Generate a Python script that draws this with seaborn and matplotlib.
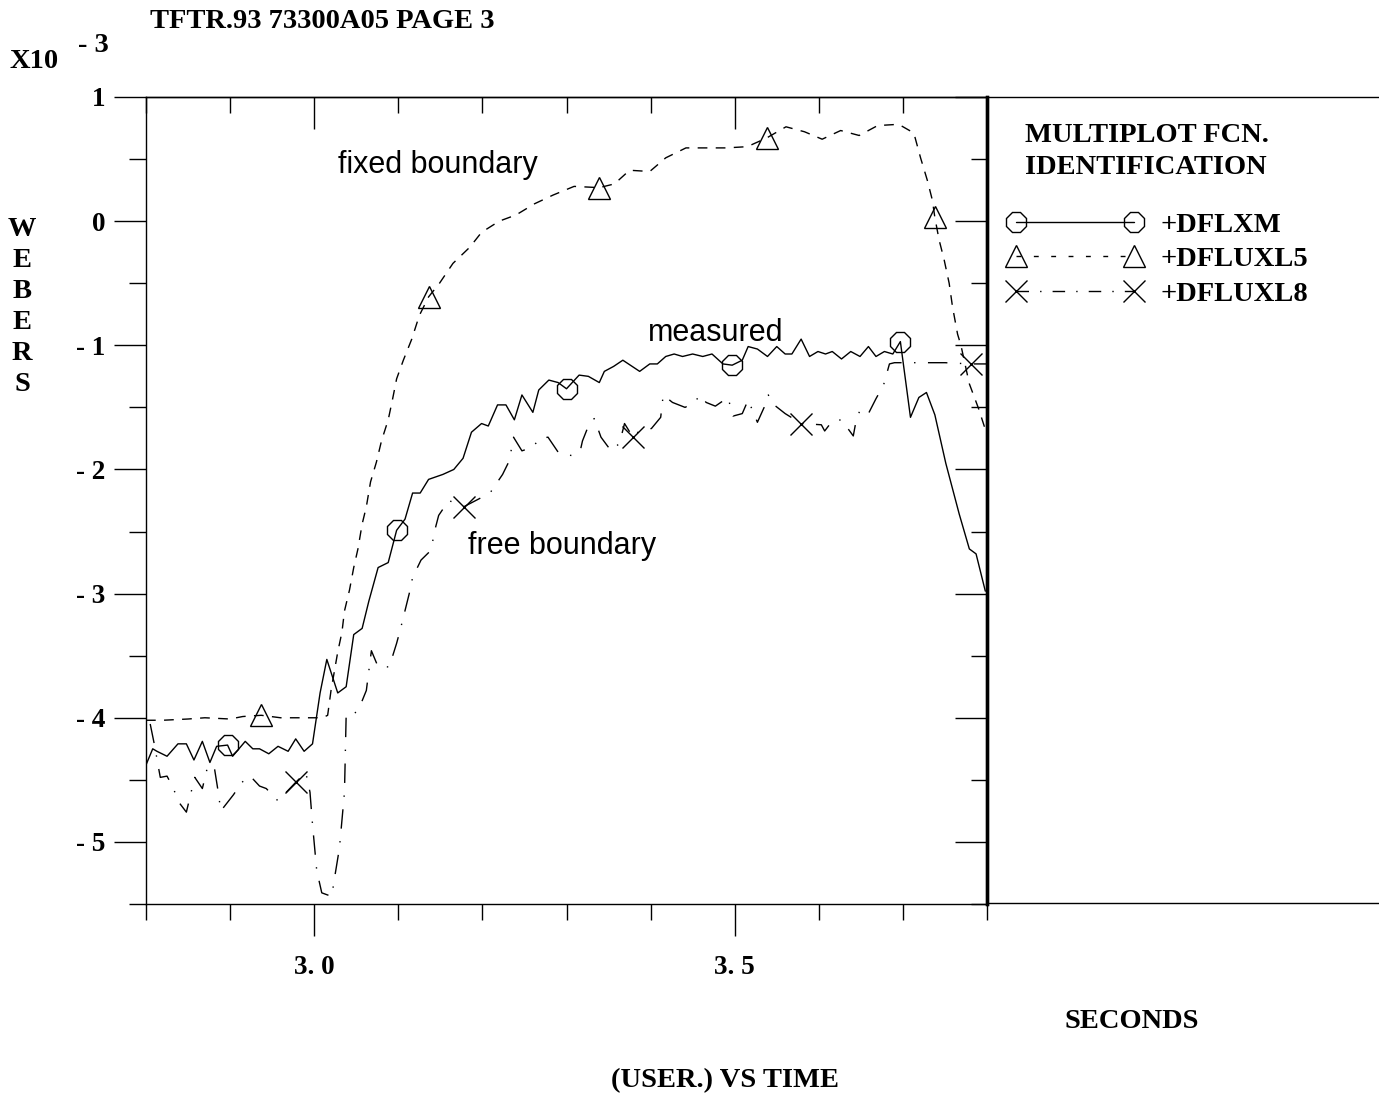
import numpy as np
import matplotlib
matplotlib.use("Agg")
import matplotlib.pyplot as plt
from matplotlib.lines import Line2D
from matplotlib.ticker import FixedLocator
import seaborn as sns

# ---------------- data ----------------
t_measured = [2.800, 2.808, 2.813, 2.825, 2.838, 2.848, 2.857, 2.867, 2.876, 2.884,
              2.897, 2.903, 2.918, 2.927, 2.935, 2.946, 2.957, 2.969, 2.978, 2.988,
              2.998, 3.007, 3.015, 3.028, 3.038, 3.047, 3.057, 3.065, 3.076, 3.088,
              3.098, 3.108, 3.117, 3.126, 3.136, 3.153, 3.166, 3.177, 3.187, 3.199,
              3.207, 3.218, 3.228, 3.238, 3.247, 3.260, 3.267, 3.279, 3.290, 3.300,
              3.315, 3.326, 3.339, 3.345, 3.356, 3.367, 3.387, 3.399, 3.408, 3.418,
              3.428, 3.438, 3.450, 3.462, 3.473, 3.486, 3.497, 3.509, 3.516, 3.527,
              3.539, 3.550, 3.560, 3.568, 3.579, 3.589, 3.599, 3.608, 3.616, 3.627,
              3.638, 3.649, 3.659, 3.668, 3.678, 3.688, 3.697, 3.709, 3.719, 3.728,
              3.738, 3.751, 3.767, 3.779, 3.787, 3.798]
measured = [-4.38, -4.25, -4.27, -4.31, -4.21, -4.21, -4.34, -4.19, -4.36, -4.23,
            -4.22, -4.31, -4.19, -4.25, -4.25, -4.29, -4.23, -4.27, -4.17, -4.27,
            -4.21, -3.80, -3.53, -3.80, -3.75, -3.33, -3.28, -3.06, -2.79, -2.75,
            -2.49, -2.40, -2.19, -2.19, -2.08, -2.04, -2.00, -1.91, -1.70, -1.63,
            -1.65, -1.48, -1.48, -1.60, -1.40, -1.54, -1.36, -1.28, -1.30, -1.35,
            -1.24, -1.25, -1.30, -1.21, -1.17, -1.12, -1.21, -1.15, -1.15, -1.09,
            -1.07, -1.09, -1.07, -1.09, -1.07, -1.15, -1.16, -1.12, -1.01, -1.03,
            -1.09, -1.01, -1.07, -1.07, -0.95, -1.09, -1.05, -1.07, -1.05, -1.11,
            -1.05, -1.09, -1.01, -1.09, -1.05, -1.07, -0.97, -1.58, -1.42, -1.38,
            -1.56, -1.95, -2.36, -2.64, -2.68, -2.98]
measured_marks = [10, 30, 49, 66, 86]

t_fixed = [2.800, 2.820, 2.850, 2.870, 2.900, 2.915, 2.937, 2.960, 2.990, 3.010,
           3.016, 3.020, 3.028, 3.033, 3.036, 3.042, 3.047, 3.052, 3.057, 3.062,
           3.067, 3.074, 3.080, 3.088, 3.093, 3.098, 3.106, 3.116, 3.125, 3.136,
           3.149, 3.165, 3.185, 3.199, 3.220, 3.240, 3.262, 3.284, 3.309, 3.339,
           3.357, 3.375, 3.399, 3.418, 3.442, 3.462, 3.490, 3.515, 3.538, 3.561,
           3.583, 3.604, 3.626, 3.648, 3.670, 3.695, 3.713, 3.721, 3.729, 3.735,
           3.738, 3.743, 3.749, 3.755, 3.759, 3.765, 3.769, 3.779, 3.790, 3.800]
fixed = [-4.02, -4.02, -4.01, -4.00, -4.01, -3.99, -3.98, -4.00, -4.00, -4.00,
         -3.98, -3.78, -3.47, -3.31, -3.14, -2.97, -2.79, -2.64, -2.44, -2.30,
         -2.10, -1.94, -1.77, -1.60, -1.44, -1.27, -1.12, -0.95, -0.76, -0.61,
         -0.50, -0.34, -0.21, -0.09, 0.00, 0.05, 0.14, 0.21, 0.28, 0.27,
         0.30, 0.41, 0.40, 0.51, 0.59, 0.59, 0.59, 0.60, 0.67, 0.76,
         0.72, 0.66, 0.73, 0.69, 0.77, 0.78, 0.71, 0.51, 0.33, 0.17,
         0.03, -0.15, -0.31, -0.50, -0.69, -0.91, -1.00, -1.31, -1.51, -1.72]
fixed_marks = [6, 29, 39, 48, 60]

t_free = [2.805, 2.811, 2.814, 2.817, 2.825, 2.832, 2.839, 2.848, 2.854, 2.858,
          2.867, 2.873, 2.881, 2.885, 2.889, 2.904, 2.914, 2.924, 2.935, 2.943,
          2.957, 2.978, 2.990, 2.995, 2.998, 3.003, 3.009, 3.021, 3.023, 3.030,
          3.034, 3.036, 3.038, 3.047, 3.056, 3.062, 3.068, 3.076, 3.089, 3.092,
          3.098, 3.102, 3.113, 3.117, 3.127, 3.139, 3.143, 3.148, 3.160, 3.178,
          3.195, 3.209, 3.224, 3.232, 3.237, 3.247, 3.260, 3.268, 3.278, 3.290,
          3.307, 3.317, 3.319, 3.326, 3.333, 3.341, 3.353, 3.363, 3.369, 3.379,
          3.385, 3.401, 3.412, 3.415, 3.426, 3.441, 3.452, 3.459, 3.466, 3.477,
          3.492, 3.498, 3.509, 3.516, 3.527, 3.535, 3.540, 3.545, 3.560, 3.579,
          3.603, 3.607, 3.616, 3.627, 3.641, 3.644, 3.649, 3.659, 3.668, 3.677,
          3.684, 3.690, 3.720, 3.750, 3.781, 3.800]
free = [-4.05, -4.25, -4.37, -4.48, -4.47, -4.56, -4.68, -4.76, -4.59, -4.48,
        -4.57, -4.40, -4.39, -4.56, -4.75, -4.62, -4.52, -4.47, -4.55, -4.57,
        -4.67, -4.52, -4.44, -4.60, -4.86, -5.23, -5.41, -5.44, -5.34, -5.05,
        -4.75, -4.60, -3.98, -3.98, -3.88, -3.78, -3.46, -3.59, -3.59, -3.53,
        -3.40, -3.30, -3.00, -2.87, -2.73, -2.65, -2.50, -2.37, -2.25, -2.30,
        -2.24, -2.19, -2.04, -1.93, -1.74, -1.85, -1.82, -1.75, -1.74, -1.86,
        -1.89, -1.83, -1.77, -1.65, -1.59, -1.74, -1.85, -1.79, -1.63, -1.74,
        -1.70, -1.67, -1.58, -1.40, -1.46, -1.50, -1.46, -1.40, -1.46, -1.49,
        -1.42, -1.57, -1.55, -1.44, -1.62, -1.50, -1.40, -1.47, -1.55, -1.63,
        -1.64, -1.69, -1.61, -1.60, -1.73, -1.62, -1.52, -1.55, -1.43, -1.32,
        -1.15, -1.14, -1.14, -1.14, -1.15, -1.15]
free_marks = [21, 49, 69, 89, 104]

series_labels = ["+DFLXM", "+DFLUXL5", "+DFLUXL8"]
x_major_ticks = [3.0, 3.5]
x_tick_labels = ["3. 0", "3. 5"]
x_minor_ticks = [2.8, 2.9, 3.1, 3.2, 3.3, 3.4, 3.6, 3.7, 3.8]
y_major_ticks = [1, 0, -1, -2, -3, -4, -5]
y_tick_labels = ["1", "0", "- 1", "- 2", "- 3", "- 4", "- 5"]
y_minor_ticks = [0.5, -0.5, -1.5, -2.5, -3.5, -4.5, -5.5]

# ---------------- style ----------------
sns.set_theme(style="ticks", rc={
    "axes.edgecolor": "black", "xtick.color": "black", "ytick.color": "black",
    "text.color": "black", "axes.labelcolor": "black", "axes.linewidth": 1.0,
})
plt.rcParams["font.family"] = ["Liberation Serif", "DejaVu Serif"]
plt.rcParams["font.weight"] = "bold"
plt.rcParams["lines.scale_dashes"] = True

W, H = 1379, 1093
fig = plt.figure(figsize=(W / 100, H / 100), dpi=100)
fig.patch.set_facecolor("white")


def fx(px):
    return px / W


def fy(py):
    return 1 - py / H


ax = fig.add_axes([fx(146), fy(904), (987 - 146) / W, (904 - 97) / H])
ax.set_facecolor("white")

FS = 19.5
TS = 20.5
MS = 16
dash_fixed = (0, (7, 6))
dash_free = (0, (14, 9, 1, 9))

sns.lineplot(x=t_measured, y=measured, ax=ax, color="black", lw=1.0,
             sort=False, estimator=None, marker="8", markersize=MS,
             markevery=measured_marks, markerfacecolor="none",
             markeredgecolor="black", markeredgewidth=1.0)
sns.lineplot(x=t_fixed, y=fixed, ax=ax, color="black", lw=1.0,
             linestyle=dash_fixed, sort=False, estimator=None, marker="^",
             markersize=MS - 0.5, markevery=fixed_marks, markerfacecolor="none",
             markeredgecolor="black", markeredgewidth=1.0)
sns.lineplot(x=t_free, y=free, ax=ax, color="black", lw=1.0,
             linestyle=dash_free, sort=False, estimator=None, marker="x",
             markersize=MS, markevery=free_marks,
             markeredgecolor="black", markeredgewidth=1.0)

ax.set_xlim(2.8, 3.8)
ax.set_ylim(-5.5, 1.0)
ax.set_xlabel("")
ax.set_ylabel("")

# bottom / left ticks (outward)
ax.xaxis.set_major_locator(FixedLocator(x_major_ticks))
ax.xaxis.set_minor_locator(FixedLocator(x_minor_ticks))
ax.set_xticklabels(x_tick_labels)
ax.yaxis.set_major_locator(FixedLocator(y_major_ticks))
ax.yaxis.set_minor_locator(FixedLocator(y_minor_ticks))
ax.set_yticklabels(y_tick_labels)
ax.tick_params(axis="x", which="major", direction="out", length=23, width=1,
               pad=14, labelsize=FS, top=False)
ax.tick_params(axis="x", which="minor", direction="out", length=11.5, width=1, top=False)
ax.tick_params(axis="y", which="major", direction="out", length=23, width=1,
               pad=6, labelsize=FS, right=False)
ax.tick_params(axis="y", which="minor", direction="out", length=12, width=1, right=False)
for lab in ax.get_xticklabels() + ax.get_yticklabels():
    lab.set_fontweight("bold")

# top / right ticks (inward)
secx = ax.secondary_xaxis("top")
secx.set_xticks(x_major_ticks)
secx.set_xticks(x_minor_ticks, minor=True)
secx.tick_params(which="major", direction="in", length=23, width=1, labeltop=False)
secx.tick_params(which="minor", direction="in", length=11.5, width=1)
secy = ax.secondary_yaxis("right")
secy.set_yticks(y_major_ticks)
secy.set_yticks(y_minor_ticks, minor=True)
secy.tick_params(which="major", direction="in", length=23, width=1, labelright=False)
secy.tick_params(which="minor", direction="in", length=11.5, width=1)
secy.spines["right"].set_linewidth(2.4)
ax.spines["right"].set_linewidth(2.4)

# identification panel frame
for yy in (97, 903):
    fig.add_artist(Line2D([fx(987), 1.0], [fy(yy), fy(yy)], color="black",
                          lw=1.0, transform=fig.transFigure))

# annotations (sans)
sans = dict(family=["Liberation Sans", "DejaVu Sans"], fontweight="normal",
            fontsize=22, ha="center", va="center")
ax.text(3.147, 0.452, "fixed boundary", **sans)
ax.text(3.478, -0.903, "measured", **sans)
ax.text(3.295, -2.613, "free boundary", **sans)

# header and axis texts
txt = dict(fontsize=TS, fontweight="bold")
fig.text(fx(150), fy(22), "TFTR.93 73300A05 PAGE 3", ha="left", va="center", **txt)
fig.text(fx(10), fy(61), "X10", ha="left", va="center", **txt)
fig.text(fx(78), fy(45), "- 3", ha="left", va="center", **txt)
fig.text(fx(22), fy(217), "W\nE\nB\nE\nR\nS", ha="center", va="top",
         linespacing=1.32, **txt)
fig.text(fx(1132), fy(1021), "SECONDS", ha="center", va="center", **txt)
fig.text(fx(725), fy(1081), "(USER.) VS TIME", ha="center", va="center", **txt)

# legend panel
fig.text(fx(1025), fy(135), "MULTIPLOT FCN.", ha="left", va="center", **txt)
fig.text(fx(1025), fy(168), "IDENTIFICATION", ha="left", va="center", **txt)
handles = [
    Line2D([], [], color="black", lw=1.0, marker="8", markersize=MS,
           markerfacecolor="none", markeredgecolor="black", markeredgewidth=1.0),
    Line2D([], [], color="black", lw=1.0, linestyle=(0, (3.5, 9)), marker="^",
           markersize=MS - 0.5, markerfacecolor="none", markeredgecolor="black",
           markeredgewidth=1.0),
    Line2D([], [], color="black", lw=1.0, linestyle=(0, (9, 8, 1, 8)), marker="x",
           markersize=MS, markeredgecolor="black", markeredgewidth=1.0),
]
fig.legend(handles, series_labels, numpoints=2, handlelength=4.75,
           handletextpad=0.64, frameon=False, loc="upper left",
           bbox_to_anchor=(fx(1007.5), fy(212)), borderpad=0, borderaxespad=0,
           labelspacing=0.3,
           prop=dict(family="Liberation Serif", weight="bold", size=TS))

fig.savefig("out.png", dpi=100, facecolor="white")
